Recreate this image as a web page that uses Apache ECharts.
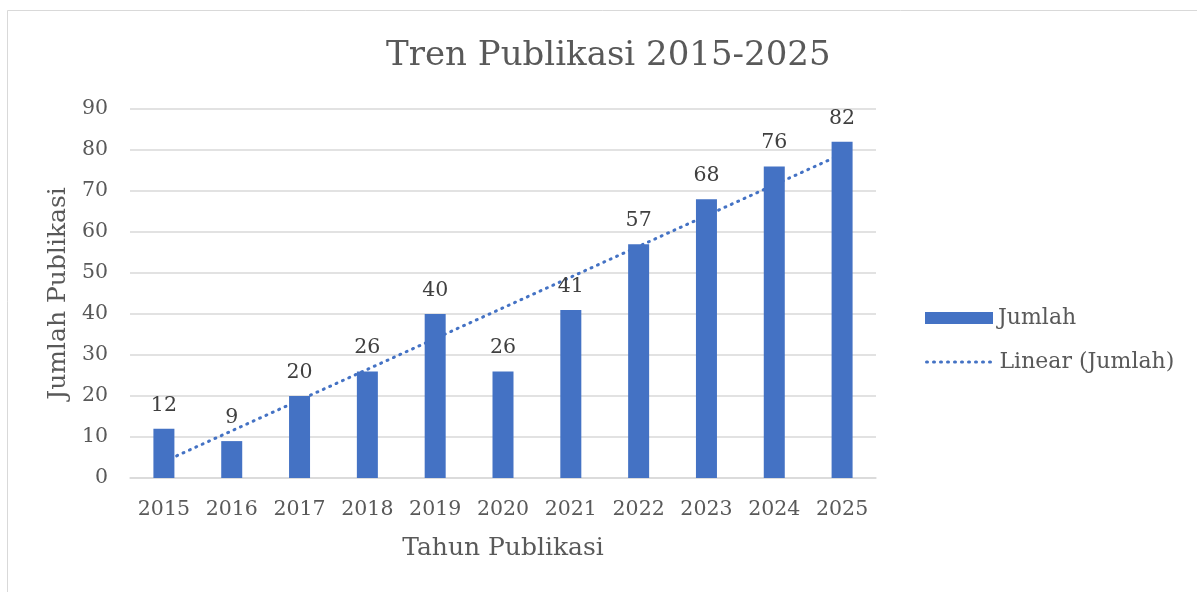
<!DOCTYPE html>
<html>
<head>
<meta charset="utf-8">
<script src="https://cdn.jsdelivr.net/npm/echarts@6/dist/echarts.min.js"></script>
<style>
html,body{margin:0;padding:0;background:#fff;}
#chart{width:1197px;height:592px;}
</style>
</head>
<body>
<div id="chart"></div>
<script>
var years = ['2015','2016','2017','2018','2019','2020','2021','2022','2023','2024','2025'];
var jumlah = [12, 9, 20, 26, 40, 26, 41, 57, 68, 76, 82];
// Linear trendline endpoints (first and last category)
var trendStart = 4.0;
var trendEnd = 79.0;
var yTicks = [0, 10, 20, 30, 40, 50, 60, 70, 80, 90];

var trendData = years.map(function (y, i) {
  if (i === 0) return trendStart;
  if (i === years.length - 1) return trendEnd;
  return null;
});

var FONT = 'DejaVu Serif';
var chart = echarts.init(document.getElementById('chart'));
chart.setOption({
  animation: false,
  backgroundColor: '#ffffff',
  graphic: [{
    type: 'rect',
    shape: {x: 7.5, y: 10.5, width: 1400, height: 800},
    style: {fill: 'none', stroke: '#d9d9d9', lineWidth: 1},
    silent: true,
    z: -10
  }],
  title: {
    text: 'Tren Publikasi 2015-2025',
    left: 381,
    top: 34,
    textStyle: {fontFamily: FONT, fontSize: 34, fontWeight: 'normal', color: '#595959'}
  },
  grid: {left: 130, right: 321, top: 109, bottom: 114, containLabel: false},
  legend: [
    {
      orient: 'vertical',
      left: 920,
      top: 302,
      itemWidth: 68,
      itemHeight: 12,
      itemGap: 5,
      textStyle: {fontFamily: FONT, fontSize: 22, color: '#595959'},
      data: [{name: 'Jumlah', icon: 'rect'}]
    },
    {
      orient: 'vertical',
      left: 920,
      top: 346,
      itemWidth: 68,
      itemHeight: 12,
      itemGap: 5,
      textStyle: {fontFamily: FONT, fontSize: 22, color: '#595959'},
      lineStyle: {width: 3, type: [1, 6], cap: 'round', color: '#4472C4'},
      data: [{name: 'Linear (Jumlah)', itemStyle: {opacity: 0}}]
    }
  ],
  xAxis: {
    type: 'category',
    data: years,
    name: 'Tahun Publikasi',
    nameLocation: 'middle',
    nameGap: 58,
    nameTextStyle: {fontFamily: FONT, fontSize: 25, color: '#595959', verticalAlign: 'top'},
    axisLine: {show: true, lineStyle: {color: '#d9d9d9', width: 1.5}},
    axisTick: {show: false},
    axisLabel: {fontFamily: FONT, fontSize: 20.5, color: '#595959', margin: 21, interval: 0, hideOverlap: false}
  },
  yAxis: {
    type: 'value',
    min: 0,
    max: 90,
    interval: 10,
    name: 'Jumlah Publikasi',
    nameLocation: 'middle',
    nameGap: 56,
    nameTextStyle: {fontFamily: FONT, fontSize: 25, color: '#595959'},
    axisLine: {show: false},
    axisTick: {show: false},
    axisLabel: {
      fontFamily: FONT, fontSize: 20.5, color: '#595959', margin: 22,
      formatter: function (v) { return yTicks.indexOf(v) >= 0 ? String(v) : ''; }
    },
    splitLine: {show: true, lineStyle: {color: '#d9d9d9', width: 1.5}}
  },
  series: [
    {
      name: 'Linear (Jumlah)',
      type: 'line',
      data: trendData,
      connectNulls: true,
      symbol: 'none',
      z: 1,
      lineStyle: {color: '#4472C4', width: 3, type: [1, 6], cap: 'round'},
      itemStyle: {color: '#4472C4'}
    },
    {
      name: 'Jumlah',
      type: 'bar',
      data: jumlah,
      barWidth: 21,
      z: 2,
      itemStyle: {color: '#4472C4'},
      label: {
        show: true,
        position: 'top',
        distance: 13,
        fontFamily: FONT,
        fontSize: 20.5,
        color: '#404040'
      }
    }
  ]
});
</script>
</body>
</html>
